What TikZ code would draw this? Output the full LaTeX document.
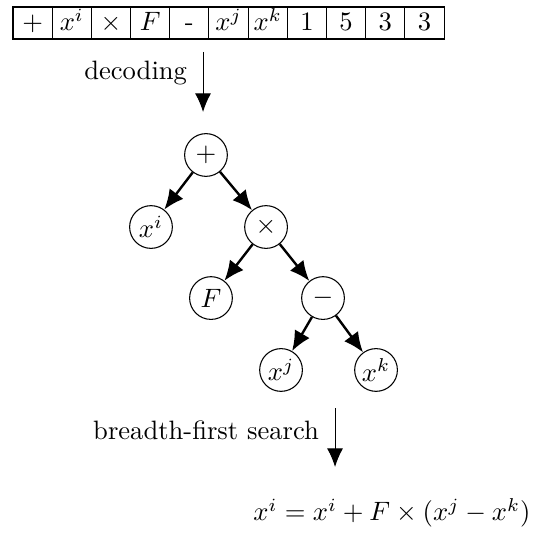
\documentclass[tikz,border=0pt]{standalone}
\usetikzlibrary{arrows.meta}
\begin{document}
\begin{tikzpicture}[
        cell/.style={draw, minimum width=0.518cm, minimum height=0.423cm, inner sep=0pt, outer sep=0pt, text height=1.6ex, text depth=0.25ex},
        op/.style={draw, circle, minimum size=0.565cm, inner sep=0pt},
        edge/.style={line width=0.9pt, -{Latex[length=7.5pt,width=6.5pt]}},
        flow/.style={-{Latex[length=7pt,width=6pt]}}
    ]
            \useasboundingbox (0,0) rectangle (7.033,-7.165);
            \path
            (0.431,-0.304) node[cell](c1) {$+$}
            (c1) ++(0.518,0) node[cell](c2) {$x^i$}
            (c2) ++(0.518,0) node[cell](c3) {$\times$}
            (c3) ++(0.518,0) node[cell](c4) {$F$}
            (c4) ++(0.518,0) node[cell](c5) {-}
            (c5) ++(0.518,0) node[cell](c6) {$x^j$}
            (c6) ++(0.518,0) node[cell](c7) {$x^k$}
            (c7) ++(0.518,0) node[cell](c8) {1}
            (c8) ++(0.518,0) node[cell](c9) {5}
            (c9) ++(0.518,0) node[cell](c10) {3}
            (c10) ++(0.518,0) node[cell](c11) {3};
            \coordinate (d1) at (2.684,-0.687);
            \coordinate (d2) at (2.684,-1.481);
            \draw[flow] (d1) -- node[left=2.5pt, pos=0.35](dec) {decoding} (d2);
            \path
            (2.723,-2.049) node[op](plus) {$+$}
            (plus) ++(-0.727,-0.952) node[op](xi) {$x^i$}
            (plus) ++(0.794,-0.952) node[op](times) {$\times$}
            (times) ++(-0.728,-0.939) node[op](F) {$F$}
            (times) ++(0.753,-0.939) node[op](minus) {$-$}
            (minus) ++(-0.555,-0.951) node[op](xj) {$x^j$}
            (minus) ++(0.701,-0.951) node[op](xk) {$x^k$};
            \draw[edge] (plus) -- (xi);
            \draw[edge] (plus) -- (times);
            \draw[edge] (times) -- (F);
            \draw[edge] (times) -- (minus);
            \draw[edge] (minus) -- (xj);
            \draw[edge] (minus) -- (xk);
            \coordinate (b1) at (4.429,-5.394);
            \coordinate (b2) at (4.429,-6.174);
            \draw[flow] (b1) -- node[left=2.5pt, pos=0.37](bfs) {breadth-first search} (b2);
            \path (5.182,-6.78) node(res) {$x^i = x^i + F \times (x^j - x^k)$};
\end{tikzpicture}
\end{document}
